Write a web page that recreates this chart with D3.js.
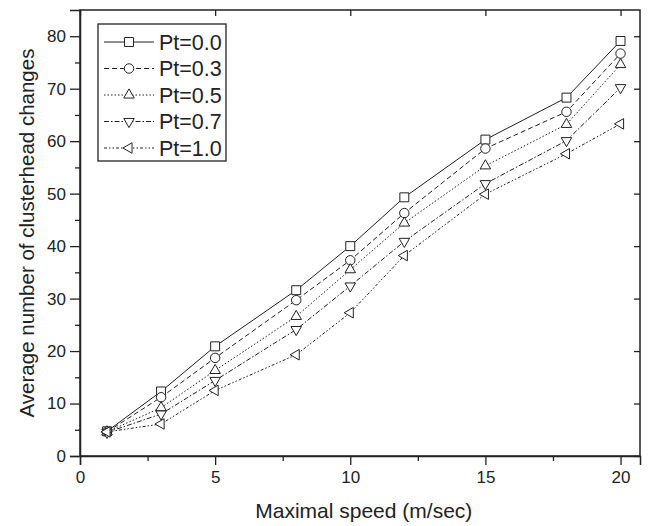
<!DOCTYPE html>
<html>
<head>
<meta charset="utf-8">
<script src="https://cdn.jsdelivr.net/npm/d3@7"></script>
<style>
  body { margin: 0; background: #fff; }
  svg { font-family: "Liberation Sans", Arial, sans-serif; }
</style>
</head>
<body>
<svg id="chart" width="650" height="526"></svg>
<script>
// speeds on the x axis
const speeds = [1, 3, 5, 8, 10, 12, 15, 18, 20];

// average clusterhead changes per Pt value
const pt00 = [4.7, 12.3, 20.9, 31.6, 40.0, 49.3, 60.3, 68.3, 79.1];
const pt03 = [4.6, 11.2, 18.7, 29.7, 37.3, 46.3, 58.6, 65.6, 76.7];
const pt05 = [4.6, 9.2, 16.3, 26.6, 35.5, 44.4, 55.3, 63.2, 74.6];
const pt07 = [4.5, 8.0, 14.4, 24.1, 32.4, 40.9, 51.9, 60.1, 70.2];
const pt10 = [4.6, 6.1, 12.5, 19.3, 27.3, 38.2, 49.9, 57.6, 63.3];

const seriesNames = ['Pt=0.0', 'Pt=0.3', 'Pt=0.5', 'Pt=0.7', 'Pt=1.0'];
const xTicks = [0, 5, 10, 15, 20];
const yTicks = [0, 10, 20, 30, 40, 50, 60, 70, 80];

const series = [
  {name: seriesNames[0], values: pt00, dash: null, shape: 'square'},
  {name: seriesNames[1], values: pt03, dash: '5,3', shape: 'circle'},
  {name: seriesNames[2], values: pt05, dash: '1.5,2', shape: 'up'},
  {name: seriesNames[3], values: pt07, dash: '5,2,1.5,2', shape: 'down'},
  {name: seriesNames[4], values: pt10, dash: '3,2,1.5,2,1.5,2', shape: 'left'}
];

const margin = {top: 10, right: 10, bottom: 70, left: 80};
const width = 650 - margin.left - margin.right;
const height = 526 - margin.top - margin.bottom;

const svg = d3.select('#chart');
const g = svg.append('g').attr('transform', `translate(${margin.left},${margin.top})`);

const x = d3.scaleLinear().domain([0, 20.72]).range([0, width]);
const y = d3.scaleLinear().domain([0, 85]).range([height, 0]);

// frame: top and right borders with inward ticks
g.append('rect')
  .attr('width', width)
  .attr('height', height)
  .attr('fill', 'none')
  .attr('stroke', '#222')
  .attr('stroke-width', 1.5);

g.append('g')
  .call(d3.axisTop(x).tickValues(xTicks).tickSize(-6).tickFormat(''))
  .call(a => a.select('.domain').remove())
  .selectAll('line').attr('stroke', '#222').attr('stroke-width', 1.3);

g.append('g')
  .attr('transform', `translate(${width},0)`)
  .call(d3.axisRight(y).tickValues(yTicks).tickSize(-6).tickFormat(''))
  .call(a => a.select('.domain').remove())
  .selectAll('line').attr('stroke', '#222').attr('stroke-width', 1.3);

// minor ticks
const xMinor = d3.range(2.5, 20.72, 5);
const yMinor = d3.range(5, 85, 10);

g.append('g')
  .attr('transform', `translate(0,${height})`)
  .call(d3.axisBottom(x).tickValues(xMinor).tickSize(5).tickFormat(''))
  .call(a => a.select('.domain').remove())
  .selectAll('line').attr('stroke', '#222').attr('stroke-width', 1.3);

g.append('g')
  .call(d3.axisLeft(y).tickValues(yMinor).tickSize(5).tickFormat(''))
  .call(a => a.select('.domain').remove())
  .selectAll('line').attr('stroke', '#222').attr('stroke-width', 1.3);

// major axes
const xAxis = g.append('g')
  .attr('transform', `translate(0,${height})`)
  .call(d3.axisBottom(x).tickValues(xTicks).tickSize(9).tickPadding(6));

const yAxis = g.append('g')
  .call(d3.axisLeft(y).tickValues(yTicks).tickSize(10).tickPadding(4));

[xAxis, yAxis].forEach(a => {
  a.select('.domain').attr('stroke', '#222').attr('stroke-width', 1.5);
  a.selectAll('line').attr('stroke', '#222').attr('stroke-width', 1.3);
  a.selectAll('text')
    .attr('fill', '#222')
    .style('font-size', '17px')
    .style('font-family', '"Liberation Sans", Arial, sans-serif');
});

// axis titles
svg.append('text')
  .attr('x', margin.left + x(10.5))
  .attr('y', 518)
  .attr('text-anchor', 'middle')
  .attr('fill', '#222')
  .style('font-size', '21px')
  .text('Maximal speed (m/sec)');

svg.append('text')
  .attr('transform', `translate(34,${margin.top + height / 2}) rotate(-90)`)
  .attr('text-anchor', 'middle')
  .attr('fill', '#222')
  .style('font-size', '20.5px')
  .text('Average number of clusterhead changes');

function markerPath(shape) {
  if (shape === 'square') return d3.symbol(d3.symbolSquare, 80)();
  if (shape === 'circle') return d3.symbol(d3.symbolCircle, 70)();
  return d3.symbol(d3.symbolTriangle, 48)();
}

function markerRotation(shape) {
  if (shape === 'down') return 180;
  if (shape === 'left') return -90;
  return 0;
}

const line = d3.line()
  .x((d, i) => x(speeds[i]))
  .y(d => y(d));

series.forEach(s => {
  g.append('path')
    .datum(s.values)
    .attr('d', line)
    .attr('fill', 'none')
    .attr('stroke', '#222')
    .attr('stroke-width', 1)
    .attr('stroke-dasharray', s.dash);
});

series.forEach(s => {
  g.selectAll(null)
    .data(s.values)
    .enter()
    .append('path')
    .attr('d', markerPath(s.shape))
    .attr('transform', (d, i) => `translate(${x(speeds[i])},${y(d)}) rotate(${markerRotation(s.shape)})`)
    .attr('fill', 'white')
    .attr('stroke', '#222')
    .attr('stroke-width', 1);
});

// legend
const legend = svg.append('g').attr('transform', 'translate(98,24)');

legend.append('rect')
  .attr('width', 128)
  .attr('height', 137)
  .attr('fill', 'white')
  .attr('stroke', '#222')
  .attr('stroke-width', 1.3);

const rowY = d3.scalePoint().domain(seriesNames).range([18, 124]);

const entries = legend.selectAll('.legendEntry')
  .data(series)
  .enter()
  .append('g')
  .attr('class', 'legendEntry')
  .attr('transform', d => `translate(0,${rowY(d.name)})`);

entries.append('line')
  .attr('x1', 6)
  .attr('x2', 56)
  .attr('stroke', '#222')
  .attr('stroke-width', 1)
  .attr('stroke-dasharray', d => d.dash);

entries.append('path')
  .attr('d', d => markerPath(d.shape))
  .attr('transform', d => `translate(31,0) rotate(${markerRotation(d.shape)})`)
  .attr('fill', 'white')
  .attr('stroke', '#222')
  .attr('stroke-width', 1);

entries.append('text')
  .attr('x', 61)
  .attr('dy', '0.36em')
  .attr('fill', '#222')
  .style('font-size', '21.5px')
  .text(d => d.name);
</script>
</body>
</html>
